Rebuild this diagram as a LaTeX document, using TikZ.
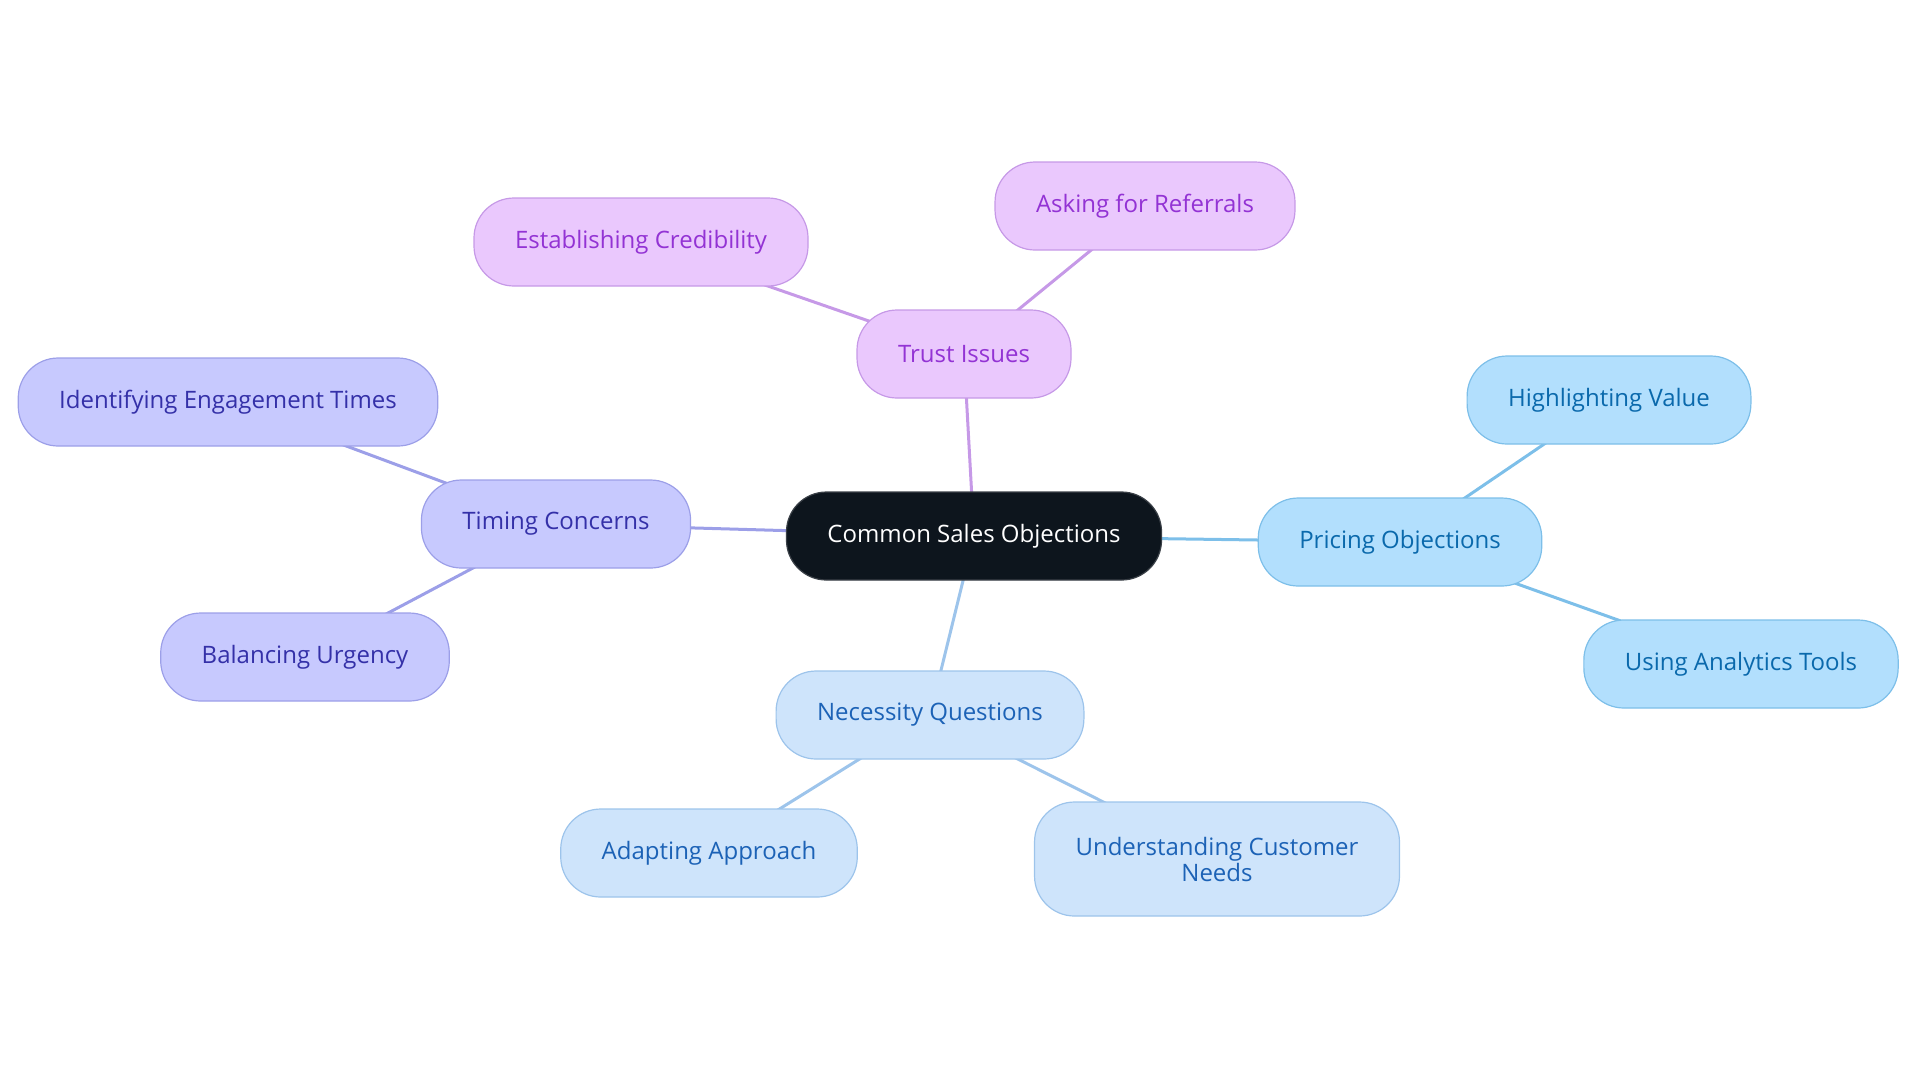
\documentclass[tikz,border=0pt]{standalone}
\usepackage{fontspec}
\setmainfont{Open Sans}
\usetikzlibrary{backgrounds}
\definecolor{rootfill}{HTML}{0D151D}
\definecolor{rootline}{HTML}{3A4047}
\definecolor{trustfill}{HTML}{EAC8FD}
\definecolor{trustline}{HTML}{C699E7}
\definecolor{trusttext}{HTML}{9333D4}
\definecolor{timefill}{HTML}{C7C9FE}
\definecolor{timeline}{HTML}{9C9FE8}
\definecolor{timetext}{HTML}{3430A8}
\definecolor{pricefill}{HTML}{B2DFFD}
\definecolor{priceline}{HTML}{7DBFE9}
\definecolor{pricetext}{HTML}{0A69AC}
\definecolor{needfill}{HTML}{CEE4FB}
\definecolor{needline}{HTML}{9DC4EB}
\definecolor{needtext}{HTML}{1C62B6}
\tikzset{
  topic/.style={rounded corners=20pt, minimum height=44pt, inner xsep=20.5pt,
    line width=0.6pt, align=center, font=\fontsize{12}{13}\selectfont},
  root/.style={topic, fill=rootfill, draw=rootline, text=white},
  trust/.style={topic, fill=trustfill, draw=trustline, text=trusttext},
  timing/.style={topic, fill=timefill, draw=timeline, text=timetext},
  pricing/.style={topic, fill=pricefill, draw=priceline, text=pricetext},
  need/.style={topic, fill=needfill, draw=needline, text=needtext},
  branch/.style={line width=1.5pt, draw=#1},
}
\begin{document}
\begin{tikzpicture}[x=0.5pt, y=-0.5pt]
      \useasboundingbox (0,0) rectangle (1920,1083);
      \draw
        (974,536) node[root] (root){Common Sales Objections}
        (964,354) node[trust] (trust){Trust Issues}
        (641,242) node[trust] (cred){Establishing Credibility}
        (1145,206) node[trust] (refer){Asking for Referrals}
        (556,524) node[timing] (timing){Timing Concerns}
        (228,402) node[timing] (engage){Identifying Engagement Times}
        (305,657) node[timing] (urgent){Balancing Urgency}
        (1400,542) node[pricing] (pricing){Pricing Objections}
        (1609,400) node[pricing] (value){Highlighting Value}
        (1741,664) node[pricing] (tools){Using Analytics Tools}
        (930,715) node[need] (need){Necessity Questions}
        (709,853) node[need] (adapt){Adapting Approach}
        (1217,859) node[need, minimum height=57pt] (custom){Understanding Customer\\Needs};
      \begin{scope}[on background layer]
        \draw[branch=trustline] (root.center) to (trust.center);
        \draw[branch=trustline] (trust.center) to (cred.center);
        \draw[branch=trustline] (trust.center) to (refer.center);
        \draw[branch=timeline] (root.center) to (timing.center);
        \draw[branch=timeline] (timing.center) to (engage.center);
        \draw[branch=timeline] (timing.center) to (urgent.center);
        \draw[branch=priceline] (root.center) to (pricing.center);
        \draw[branch=priceline] (pricing.center) to (value.center);
        \draw[branch=priceline] (pricing.center) to (tools.center);
        \draw[branch=needline] (root.center) to (need.center);
        \draw[branch=needline] (need.center) to (adapt.center);
        \draw[branch=needline] (need.center) to (custom.center);
      \end{scope}
    \end{tikzpicture}
\end{document}
